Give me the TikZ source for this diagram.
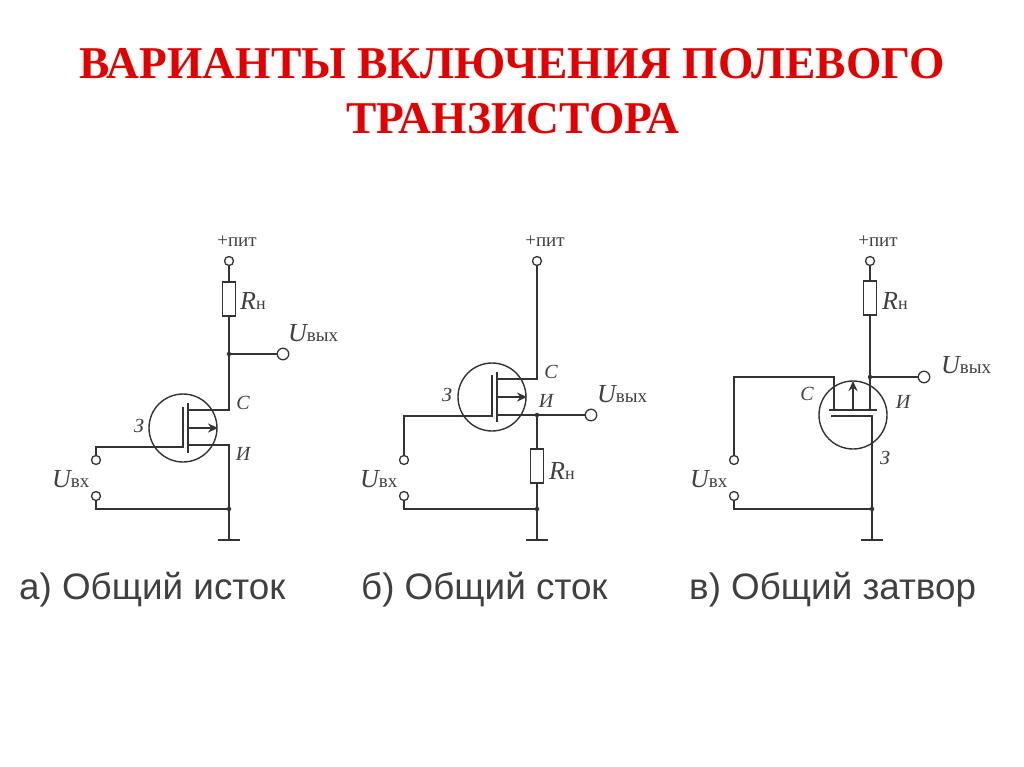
\documentclass[tikz,border=0pt]{standalone}
\usepackage{fontspec}
\setmainfont{Liberation Serif}
\setsansfont{Liberation Sans}
\usepackage{tikz}
\usetikzlibrary{arrows.meta}
\newcommand{\sized}[2]{{\fontsize{#1}{#1}\selectfont #2}}
\newcommand{\volt}[1]{\sized{26}{\itshape U}\sized{19}{#1}}
\newcommand{\rload}{\sized{26}{\itshape R}\sized{18}{н}}
\begin{document}
\begin{tikzpicture}[x=1pt,y=-1pt,
      wire/.style={
        color=black!80,line width=1.6pt
      },
      flow/.style={
        wire,-{Stealth[length=10pt,width=9pt]}
      },
      term/.style={
        circle,draw=black!80,line width=1.3pt,fill=white,inner sep=0pt,minimum size=9pt
      },
      bigterm/.style={
        term,minimum size=11.5pt
      },
      jdot/.style={
        circle,fill=black!80,inner sep=0pt,minimum size=4.5pt
      },
      loadres/.style={
        rectangle,draw=black!80,line width=1.3pt,fill=white,inner sep=0pt,minimum width=13.5pt,minimum height=34pt
      },
      fet/.style={
        circle,draw=black!80,line width=1.4pt,inner sep=0pt,minimum size=68pt
      },
      lbl/.style={
        color=black!75,inner sep=0pt
      },
      pin/.style={
        lbl,font=\fontsize{20}{20}\selectfont\itshape
      },
      supply/.style={
        lbl,font=\fontsize{19}{19}\selectfont
      },
      caption/.style={
        color=black!75,inner sep=0pt,anchor=base west,font=\sffamily\fontsize{36.8}{36.8}\selectfont
      },
      title/.style={
        color=red!90!black,inner sep=0pt,font=\bfseries\fontsize{45.5}{45.5}\selectfont
      }
    ]
    \useasboundingbox (0,0) rectangle (1024,767);
    \node [title] (t1) at (512,64) {ВАРИАНТЫ ВКЛЮЧЕНИЯ ПОЛЕВОГО};
    \node [title] (t2) at (513,119) {ТРАНЗИСТОРА};

    % a) common source
    \node [fet] (qa) at (183,428) {};
    \node [term] (vcca) at (229,261) {};
    \node [loadres] (ra) at (229,299) {};
    \node [jdot] (ja) at (229,354) {};
    \node [bigterm] (outa) at (283,354) {};
    \coordinate (da) at (229,410);
    \coordinate (sa) at (229,445);
    \node [jdot] (ka) at (229,509) {};
    \node [term] (ina) at (96,460) {};
    \node [term] (inbota) at (96,496) {};
    \coordinate (gnda) at (229,540);
    \draw [wire] (vcca) -- (ra);
    \draw [wire] (ra) -- (ja) -- (da) -- (188,410);
    \draw [wire] (ja) -- (outa);
    \draw [wire] (188,445) -- (sa) -- (gnda);
    \draw [wire] (ina) |- (183,447) -- (183,407);
    \draw [wire] (188,403) -- (188,453);
    \draw [flow] (188,428) -- (218,428);
    \draw [wire] (inbota) |- (ka);
    \draw [wire] (218,540) -- (240,540);
    \node [supply] (pa) at (237,241) {+пит};
    \node [lbl,anchor=west] (rla) at (240,301) {\rload};
    \node [lbl,anchor=west] (uoa) at (288,333) {\volt{вых}};
    \node [lbl,anchor=west] (uia) at (52,479) {\volt{вх}};
    \node [pin] (ca) at (243,403) {С};
    \node [pin] (ia) at (243,454) {И};
    \node [pin] (za) at (139,426) {З};
    \node [caption] (capa) at (19,599) {а) Общий исток};

    % b) common drain
    \node [fet] (qb) at (492,397) {};
    \node [term] (vccb) at (537,261) {};
    \coordinate (db) at (537,379);
    \node [jdot] (jb) at (537,415) {};
    \node [bigterm] (outb) at (591,415) {};
    \node [loadres] (rb) at (537,466) {};
    \node [jdot] (kb) at (537,509) {};
    \node [term] (inb) at (404,460) {};
    \node [term] (inbotb) at (404,496) {};
    \coordinate (gndb) at (537,540);
    \draw [wire] (vccb) -- (db) -- (497,379);
    \draw [wire] (497,415) -- (jb) -- (outb);
    \draw [wire] (jb) -- (rb);
    \draw [wire] (rb) -- (kb) -- (gndb);
    \draw [wire] (inb) |- (492,416) -- (492,375);
    \draw [wire] (497,372) -- (497,422);
    \draw [flow] (497,397) -- (527,397);
    \draw [wire] (inbotb) |- (kb);
    \draw [wire] (526,540) -- (548,540);
    \node [supply] (pb) at (545,241) {+пит};
    \node [lbl,anchor=west] (rlb) at (549,471) {\rload};
    \node [lbl,anchor=west] (uob) at (597,394) {\volt{вых}};
    \node [lbl,anchor=west] (uib) at (360,479) {\volt{вх}};
    \node [pin] (cb) at (551,372) {С};
    \node [pin] (ib) at (546,401) {И};
    \node [pin] (zb) at (447,395) {З};
    \node [caption] (capb) at (361,599) {б) Общий сток};

    % v) common gate
    \node [fet] (qc) at (853,415) {};
    \node [term] (vccc) at (870,261) {};
    \node [loadres] (rc) at (870,298) {};
    \node [jdot] (jc) at (870,377) {};
    \node [bigterm] (outc) at (924,377) {};
    \node [jdot] (kc) at (872,509) {};
    \node [term] (inc) at (734,460) {};
    \node [term] (inbotc) at (734,496) {};
    \coordinate (gndc) at (872,540);
    \coordinate (dc) at (834,377);
    \draw [wire] (vccc) -- (rc);
    \draw [wire] (rc) -- (jc) -- (870,410);
    \draw [wire] (jc) -- (outc);
    \draw [wire] (inc) |- (dc) -- (834,410);
    \draw [wire] (829,410) -- (877,410);
    \draw [wire] (831,416) -- (872,416) -- (gndc);
    \draw [flow] (853,410) -- (853,381);
    \draw [wire] (inbotc) |- (kc);
    \draw [wire] (861,540) -- (883,540);
    \node [supply] (pc) at (878,241) {+пит};
    \node [lbl,anchor=west] (rlc) at (882,301) {\rload};
    \node [lbl,anchor=west] (uoc) at (941,365) {\volt{вых}};
    \node [lbl,anchor=west] (uic) at (690,479) {\volt{вх}};
    \node [pin] (cc) at (807,394) {С};
    \node [pin] (ic) at (903,402) {И};
    \node [pin] (zc) at (885,458) {З};
    \node [caption] (capc) at (689,599) {в) Общий затвор};
  \end{tikzpicture}
\end{document}
